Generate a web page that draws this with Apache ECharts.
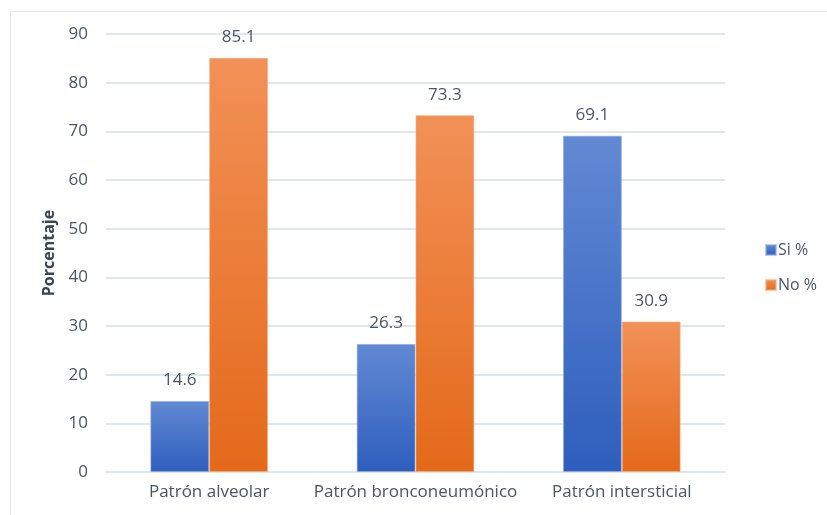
<!DOCTYPE html>
<html>
<head>
<meta charset="utf-8">
<script src="https://cdn.jsdelivr.net/npm/echarts@6/dist/echarts.min.js"></script>
<style>
  html, body { margin: 0; padding: 0; background: #fff; }
  #chart { width: 827px; height: 515px; }
</style>
</head>
<body>
<div id="chart"></div>
<script>
    // data
    const categories = ['Patrón alveolar', 'Patrón bronconeumónico', 'Patrón intersticial'];
    const siValues = [14.6, 26.3, 69.1];
    const noValues = [85.1, 73.3, 30.9];
    const seriesNames = ['Si %', 'No %'];

    const textColor = '#4b5567';
    const font = 'Open Sans';

    const grad = (top, bottom) => new echarts.graphic.LinearGradient(0, 0, 0, 1, [
        {offset: 0, color: top},
        {offset: 1, color: bottom}
    ]);

    const labelOption = {
        show: true,
        position: 'top',
        distance: 12,
        color: textColor,
        fontSize: 17,
        fontFamily: font,
        formatter: p => p.value.toFixed(1)
    };

    const chart = echarts.init(document.getElementById('chart'));

    chart.setOption({
        animation: false,
        textStyle: {fontFamily: font},
        graphic: [{
            type: 'rect',
            shape: {x: 10.5, y: 11.5, width: 830, height: 520},
            style: {fill: 'none', stroke: '#e3e6ec', lineWidth: 1},
            silent: true
        }],
        grid: {left: 106, right: 102, top: 34, bottom: 43, containLabel: false},
        legend: {
            orient: 'vertical',
            left: 760,
            top: 237,
            itemWidth: 10,
            itemHeight: 10,
            itemGap: 19,
            icon: 'rect',
            textStyle: {color: textColor, fontSize: 16, padding: [0, 0, 0, -3]},
            data: seriesNames
        },
        xAxis: {
            type: 'category',
            data: categories,
            axisTick: {show: false},
            axisLine: {lineStyle: {color: '#e1e5ec', width: 2}},
            axisLabel: {color: textColor, fontSize: 17, margin: 12, interval: 0}
        },
        yAxis: {
            type: 'value',
            min: 0,
            max: 90,
            interval: 10,
            name: 'Porcentaje',
            nameLocation: 'middle',
            nameGap: 46,
            nameTextStyle: {color: '#3a4457', fontSize: 16, fontWeight: 'bold'},
            axisLine: {show: false},
            axisTick: {show: false},
            axisLabel: {color: textColor, fontSize: 17, margin: 18},
            splitLine: {lineStyle: {color: '#e1e5ec', width: 2}}
        },
        series: [
            {
                name: seriesNames[0],
                type: 'bar',
                barGap: 0,
                barCategoryGap: '43%',
                label: labelOption,
                itemStyle: {
                    color: grad('#6289d3', '#2e5ebd'),
                    borderColor: 'rgba(140,170,225,0.6)',
                    borderWidth: 1
                },
                data: siValues
            },
            {
                name: seriesNames[1],
                type: 'bar',
                barGap: 0,
                barCategoryGap: '43%',
                label: labelOption,
                itemStyle: {
                    color: grad('#f29157', '#e4691a'),
                    borderColor: 'rgba(245,170,120,0.6)',
                    borderWidth: 1
                },
                data: noValues
            }
        ]
    });
</script>
</body>
</html>
